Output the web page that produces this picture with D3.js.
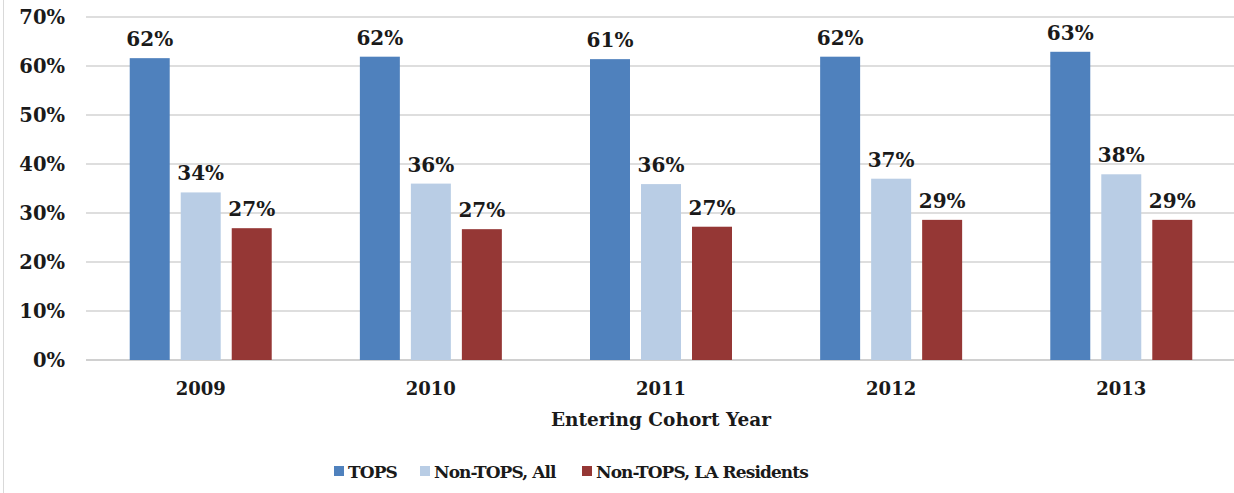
<!DOCTYPE html>
<html lang="en">
<head>
<meta charset="utf-8">
<title>Entering Cohort Year</title>
<script src="https://d3js.org/d3.v7.min.js"></script>
<style>
    body { margin: 0; background: #fff; }
    svg text { font-family: "DejaVu Serif", serif; font-weight: bold; fill: #1a1a1a; }
</style>
</head>
<body>
<div id="chart"></div>
<script>
// data
var years = ['2009', '2010', '2011', '2012', '2013'];
var seriesNames = ['TOPS', 'Non-TOPS, All', 'Non-TOPS, LA Residents'];
var seriesColors = ['#4f81bd', '#b9cde5', '#953735'];
var tops = [0.616, 0.619, 0.614, 0.619, 0.629];
var nonTopsAll = [0.342, 0.360, 0.359, 0.370, 0.379];
var nonTopsLA = [0.269, 0.267, 0.272, 0.286, 0.286];
var yTicks = [0, 0.1, 0.2, 0.3, 0.4, 0.5, 0.6, 0.7];

var values = [tops, nonTopsAll, nonTopsLA];

var width = 1234, height = 493;
var plotLeft = 86, plotRight = 1236, plotTop = 17, plotBottom = 360;

var svg = d3.select('#chart')
    .append('svg')
    .attr('width', width)
    .attr('height', height);

// left border of the frame
svg.append('line')
    .attr('x1', 3.5).attr('x2', 3.5)
    .attr('y1', 0).attr('y2', height)
    .attr('stroke', '#d9d9d9');

var x = d3.scaleBand()
    .domain(years)
    .range([plotLeft, plotRight])
    .paddingInner(0.383)
    .paddingOuter(0.19);

var xs = d3.scaleBand()
    .domain(seriesNames)
    .range([0, x.bandwidth()])
    .paddingInner(0.216);

var y = d3.scaleLinear()
    .domain([0, 0.7])
    .range([plotBottom, plotTop]);

// gridlines
svg.append('g')
    .selectAll('line')
    .data(yTicks)
    .enter()
    .append('line')
    .attr('x1', plotLeft)
    .attr('x2', width)
    .attr('y1', function(d) { return Math.round(y(d)); })
    .attr('y2', function(d) { return Math.round(y(d)); })
    .attr('stroke', function(d) { return d === 0 ? '#d0d0d0' : '#dedede'; })
    .attr('stroke-width', 2);

// y tick labels
svg.append('g')
    .selectAll('text')
    .data(yTicks)
    .enter()
    .append('text')
    .attr('x', 65)
    .attr('y', function(d) { return y(d); })
    .attr('dy', '0.36em')
    .attr('text-anchor', 'end')
    .style('font-size', '19.5px')
    .text(d3.format('.0%'));

// bars
var groups = svg.append('g')
    .selectAll('g')
    .data(years)
    .enter()
    .append('g')
    .attr('transform', function(d) { return 'translate(' + x(d) + ',0)'; });

seriesNames.forEach(function(name, si) {
    groups.append('rect')
        .attr('x', xs(name))
        .attr('width', xs.bandwidth())
        .attr('y', function(d, i) { return y(values[si][i]); })
        .attr('height', function(d, i) { return y(0) - y(values[si][i]); })
        .attr('fill', seriesColors[si]);

    groups.append('text')
        .attr('x', xs(name) + xs.bandwidth() / 2)
        .attr('y', function(d, i) { return y(values[si][i]) - 12; })
        .attr('text-anchor', 'middle')
        .style('font-size', '20px')
        .text(function(d, i) { return d3.format('.0%')(values[si][i]); });
});

// x labels
svg.append('g')
    .selectAll('text')
    .data(years)
    .enter()
    .append('text')
    .attr('x', function(d) { return x(d) + x.bandwidth() / 2; })
    .attr('y', 395)
    .attr('text-anchor', 'middle')
    .style('font-size', '18px')
    .text(function(d) { return d; });

svg.append('text')
    .attr('x', 661)
    .attr('y', 426)
    .attr('text-anchor', 'middle')
    .style('font-size', '18.5px')
    .text('Entering Cohort Year');

// legend
var legendX = [334, 420, 582];
var legend = svg.append('g')
    .selectAll('g')
    .data(seriesNames)
    .enter()
    .append('g')
    .attr('transform', function(d, i) { return 'translate(' + legendX[i] + ',466)'; });

legend.append('rect')
    .attr('width', 10)
    .attr('height', 10)
    .attr('fill', function(d, i) { return seriesColors[i]; });

legend.append('text')
    .attr('x', 14)
    .attr('y', 12)
    .style('font-size', '17px')
    .style('letter-spacing', '-0.9px')
    .text(function(d) { return d; });
</script>
</body>
</html>
